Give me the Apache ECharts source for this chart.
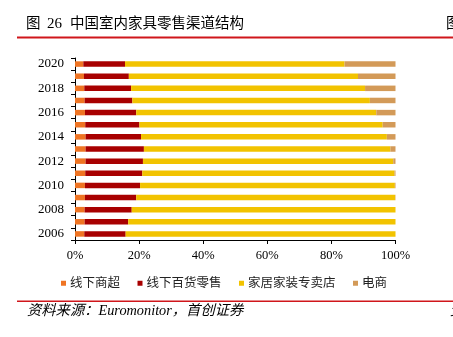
<!DOCTYPE html>
<html>
<head>
<meta charset="utf-8">
<script src="https://cdn.jsdelivr.net/npm/echarts@6/dist/echarts.min.js"></script>
<style>
html,body{margin:0;padding:0;background:#fff;}
#chart{width:453px;height:337px;}
</style>
</head>
<body>
<div id="chart"></div>
<script>
var years = ['2006','2007','2008','2009','2010','2011','2012','2013','2014','2015','2016','2017','2018','2019','2020'];
var seriesNames = ['线下商超','线下百货零售','家居家装专卖店','电商'];
var supermarket = [2.9, 3.0, 3.0, 3.1, 3.1, 3.2, 3.3, 3.3, 3.3, 3.2, 3.1, 3.0, 2.9, 2.8, 2.6];
var deptStore   = [12.9, 13.6, 14.7, 16.0, 17.2, 17.8, 17.9, 18.2, 17.3, 16.9, 16.0, 14.9, 14.6, 14.0, 13.0];
var specialty   = [84.2, 83.4, 82.3, 80.8, 79.5, 78.7, 78.1, 76.9, 76.7, 75.9, 74.9, 74.1, 73.0, 71.5, 68.5];
var ecommerce   = [0.0, 0.0, 0.0, 0.1, 0.2, 0.3, 0.7, 1.6, 2.7, 4.0, 6.0, 8.0, 9.5, 11.7, 15.9];
var xTicks = [0, 20, 40, 60, 80, 100];
var titleLabel = '图';
var titleNumber = '26';
var titleText = '中国室内家具零售渠道结构';
var sourceText = '资料来源：Euromonitor，首创证券';

var colors = ['#EF7423', '#A80000', '#F2C300', '#D39A58'];
var serif = '"Liberation Serif","Noto Sans CJK SC",serif';
var cjk = '"Liberation Serif","Noto Sans CJK SC",sans-serif';

var chart = echarts.init(document.getElementById('chart'), null, {renderer: 'canvas'});
var dataArrays = [supermarket, deptStore, specialty, ecommerce];
var series = seriesNames.map(function (n, i) {
  return {
    name: n,
    type: 'bar',
    stack: 'total',
    barWidth: 5.5,
    itemStyle: {color: colors[i]},
    data: dataArrays[i]
  };
});

chart.setOption({
  animation: false,
  color: colors,
  grid: {left: 75, right: 57.5, top: 58, height: 182, containLabel: false},
  legend: {
    left: 56,
    top: 272,
    itemWidth: 5,
    itemHeight: 5,
    itemGap: 17.5,
    icon: 'rect',
    textStyle: {fontSize: 12.5, fontFamily: cjk, color: '#222', padding: [0, 0, 0, -1]},
    data: seriesNames
  },
  xAxis: {
    type: 'value',
    min: xTicks[0],
    max: xTicks[xTicks.length - 1],
    interval: 20,
    splitLine: {show: false},
    axisLine: {show: true, lineStyle: {color: '#000', width: 1}},
    axisTick: {show: true, length: 4, lineStyle: {color: '#000'}},
    axisLabel: {formatter: '{value}%', fontFamily: serif, fontSize: 12.5, color: '#000', margin: 9}
  },
  yAxis: {
    type: 'category',
    data: years,
    axisLine: {show: true, lineStyle: {color: '#000', width: 1}},
    axisTick: {show: true, length: 4, interval: 0, lineStyle: {color: '#000'}},
    axisLabel: {interval: 1, fontFamily: serif, fontSize: 13, color: '#000', margin: 11}
  },
  graphic: [
    {type: 'text', left: 26, top: 17, style: {text: titleLabel, font: '14.5px ' + cjk, fill: '#000'}},
    {type: 'text', left: 47, top: 17, style: {text: titleNumber, font: '15px ' + serif, fill: '#000'}},
    {type: 'text', left: 70, top: 17, style: {text: titleText, font: '14.5px ' + cjk, fill: '#000'}},
    {type: 'text', left: 446, top: 17, style: {text: '图', font: '14.5px ' + cjk, fill: '#000'}},
    {type: 'rect', shape: {x: 17, y: 36.5, width: 436, height: 2}, style: {fill: '#D0161B'}},
    {type: 'rect', shape: {x: 17, y: 300.5, width: 436, height: 1.6}, style: {fill: '#D0161B'}},
    {type: 'text', left: 27, top: 304, style: {text: sourceText, font: 'italic 14.3px ' + serif, fill: '#000'}},
    {type: 'text', left: 450, top: 304, style: {text: '资', font: 'italic 14px ' + serif, fill: '#000'}}
  ],
  series: series
});
</script>
</body>
</html>
